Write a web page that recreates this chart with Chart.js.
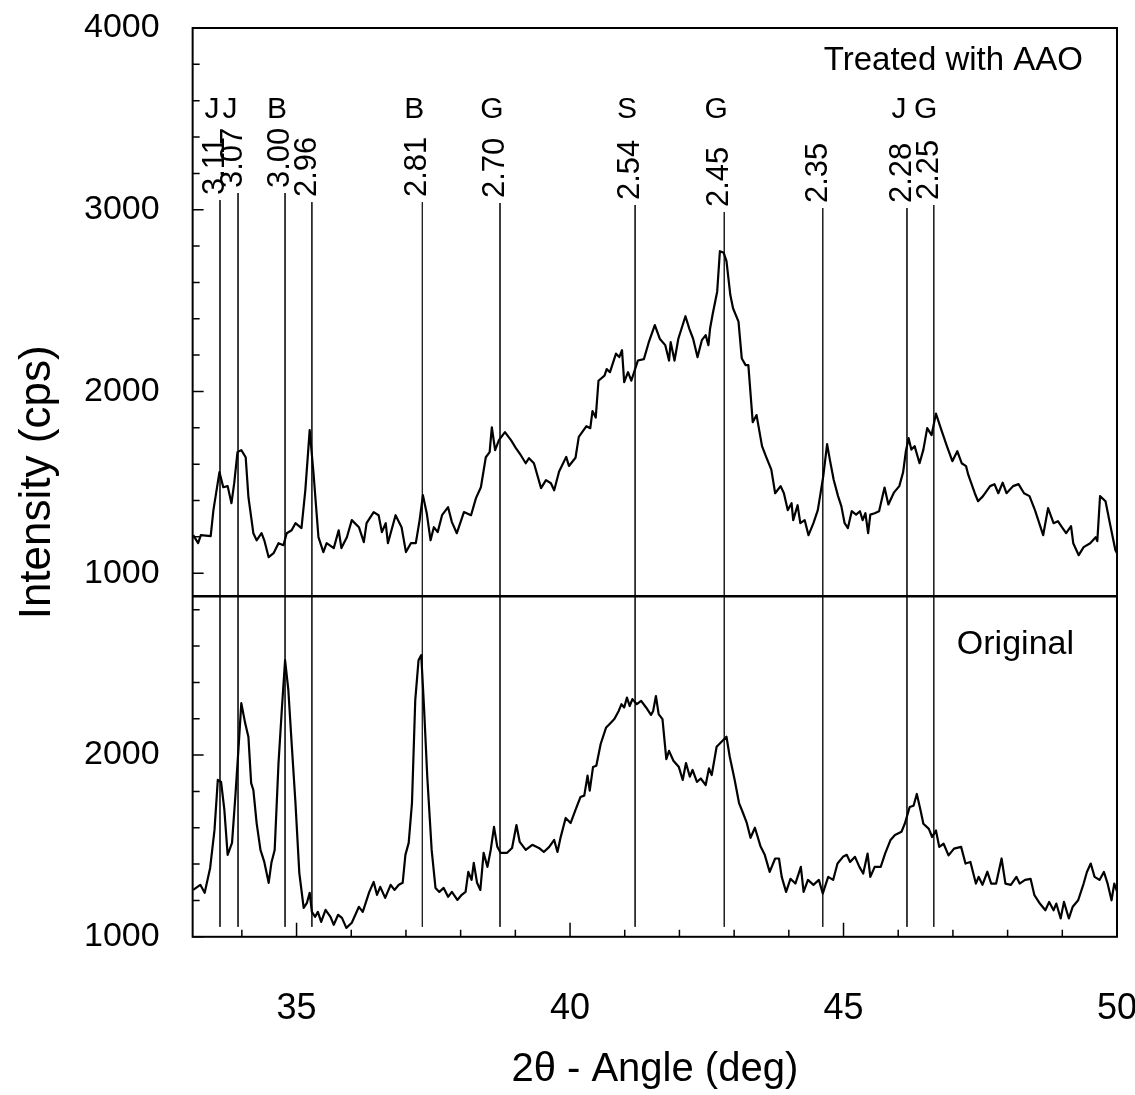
<!DOCTYPE html>
<html lang="en">
<head>
<meta charset="UTF-8">
<title>XRD – treated with AAO / original</title>
<script src="https://cdn.jsdelivr.net/npm/chart.js"></script>
<style>
  html, body { margin: 0; padding: 0; background: #fff; }
  #wrap { width: 1135px; height: 1095px; position: relative; }
</style>
</head>
<body>
<div id="wrap"><canvas id="xrdChart"></canvas></div>
<script>
const FONT = '"Liberation Sans", Arial, Helvetica, sans-serif';

// 2θ window
const angleMin = 33.1;
const angleMax = 50;

// intensity window of each panel (cps)
const upperRange = [873, 4000];
const lowerRange = [1000, 2874];

// treated with AAO (upper trace)
const treatedAngle = [
  33.11, 33.20, 33.25, 33.43, 33.48, 33.59, 33.66, 33.74, 33.81, 33.86, 33.92, 33.99, 34.07, 34.12,
  34.21, 34.27, 34.36, 34.41, 34.49, 34.58, 34.67, 34.76, 34.82, 34.91, 34.98, 35.09, 35.16, 35.24,
  35.31, 35.40, 35.49, 35.55, 35.68, 35.77, 35.82, 35.92, 36.01, 36.14, 36.23, 36.28, 36.41, 36.50,
  36.56, 36.63, 36.67, 36.81, 36.92, 37.00, 37.09, 37.18, 37.25, 37.31, 37.38, 37.45, 37.51, 37.58,
  37.66, 37.77, 37.84, 37.93, 38.06, 38.19, 38.28, 38.37, 38.46, 38.53, 38.57, 38.63, 38.70, 38.81,
  38.92, 39.01, 39.10, 39.19, 39.25, 39.34, 39.47, 39.56, 39.65, 39.71, 39.80, 39.93, 39.98, 40.10,
  40.16, 40.30, 40.37, 40.41, 40.47, 40.52, 40.63, 40.67, 40.73, 40.84, 40.90, 40.95, 40.99, 41.06,
  41.12, 41.24, 41.35, 41.44, 41.55, 41.64, 41.74, 41.81, 41.84, 41.91, 41.98, 42.11, 42.18, 42.25,
  42.33, 42.41, 42.48, 42.53, 42.56, 42.61, 42.69, 42.74, 42.81, 42.86, 42.93, 42.98, 43.08, 43.14,
  43.21, 43.26, 43.34, 43.41, 43.51, 43.58, 43.68, 43.75, 43.85, 43.91, 43.98, 44.05, 44.08, 44.16,
  44.21, 44.29, 44.36, 44.45, 44.53, 44.63, 44.70, 44.75, 44.82, 44.90, 44.96, 45.02, 45.08, 45.15,
  45.23, 45.30, 45.35, 45.40, 45.45, 45.49, 45.57, 45.65, 45.75, 45.82, 45.92, 46.02, 46.09, 46.14,
  46.19, 46.24, 46.30, 46.39, 46.46, 46.53, 46.61, 46.69, 46.79, 46.89, 46.99, 47.08, 47.16, 47.24,
  47.28, 47.40, 47.46, 47.55, 47.68, 47.76, 47.83, 47.91, 47.98, 48.10, 48.20, 48.30, 48.40, 48.50,
  48.65, 48.74, 48.84, 48.92, 48.98, 49.07, 49.16, 49.20, 49.30, 49.39, 49.51, 49.61, 49.64, 49.69,
  49.79, 49.87, 49.97, 50.00
];
const treatedCounts = [
  1209, 1165, 1209, 1204, 1347, 1556, 1473, 1479, 1385, 1495, 1666, 1677, 1638, 1418,
  1220, 1181, 1220, 1181, 1088, 1110, 1165, 1154, 1220, 1236, 1275, 1248, 1456, 1787,
  1550, 1198, 1116, 1165, 1138, 1236, 1138, 1198, 1292, 1253, 1171, 1275, 1336, 1319,
  1226, 1275, 1165, 1319, 1253, 1116, 1165, 1165, 1292, 1429, 1330, 1181, 1253, 1226,
  1319, 1363, 1281, 1220, 1336, 1319, 1413, 1473, 1638, 1666, 1803, 1677, 1732, 1776,
  1732, 1688, 1649, 1605, 1633, 1605, 1468, 1512, 1495, 1456, 1560, 1640, 1590, 1635,
  1750, 1809, 1798, 1892, 1856, 2059, 2087, 2123, 2106, 2208, 2189, 2227, 2051, 2106,
  2059, 2170, 2178, 2271, 2365, 2290, 2255, 2170, 2271, 2170, 2290, 2414, 2346, 2290,
  2189, 2282, 2310, 2255, 2346, 2429, 2549, 2772, 2763, 2717, 2532, 2458, 2384, 2181,
  2145, 2145, 1831, 1870, 1699, 1644, 1570, 1440, 1479, 1440, 1347, 1385, 1292, 1374,
  1275, 1292, 1209, 1275, 1347, 1534, 1710, 1625, 1514, 1424, 1369, 1275, 1248, 1341,
  1322, 1341, 1292, 1330, 1220, 1322, 1330, 1341, 1471, 1378, 1443, 1479, 1556, 1671,
  1743, 1680, 1699, 1605, 1680, 1798, 1760, 1878, 1787, 1699, 1616, 1671, 1605, 1589,
  1542, 1440, 1396, 1424, 1479, 1490, 1440, 1498, 1440, 1479, 1490, 1440, 1424, 1347,
  1209, 1358, 1275, 1286, 1259, 1220, 1259, 1165, 1099, 1143, 1165, 1198, 1176, 1424,
  1396, 1275, 1127, 1110
];

// original sample (lower trace)
const originalAngle = [
  33.11, 33.24, 33.32, 33.42, 33.50, 33.56, 33.62, 33.68, 33.74, 33.82, 33.88, 33.94, 33.99, 34.06,
  34.12, 34.17, 34.21, 34.27, 34.34, 34.41, 34.49, 34.54, 34.60, 34.67, 34.73, 34.79, 34.85, 34.91,
  34.98, 35.05, 35.13, 35.19, 35.24, 35.28, 35.34, 35.39, 35.45, 35.53, 35.62, 35.68, 35.76, 35.83,
  35.91, 36.01, 36.14, 36.21, 36.33, 36.41, 36.47, 36.53, 36.62, 36.72, 36.79, 36.87, 36.94, 36.99,
  37.05, 37.11, 37.17, 37.23, 37.28, 37.33, 37.39, 37.47, 37.54, 37.61, 37.69, 37.77, 37.84, 37.94,
  38.02, 38.09, 38.14, 38.20, 38.24, 38.30, 38.36, 38.42, 38.49, 38.55, 38.61, 38.67, 38.73, 38.85,
  38.94, 39.02, 39.08, 39.19, 39.31, 39.43, 39.52, 39.62, 39.71, 39.77, 39.83, 39.92, 40.01, 40.10,
  40.19, 40.26, 40.32, 40.36, 40.42, 40.48, 40.56, 40.66, 40.72, 40.81, 40.89, 40.94, 40.99, 41.04,
  41.09, 41.14, 41.22, 41.30, 41.39, 41.48, 41.52, 41.57, 41.62, 41.69, 41.76, 41.81, 41.89, 41.99,
  42.06, 42.12, 42.19, 42.24, 42.32, 42.39, 42.48, 42.54, 42.59, 42.68, 42.77, 42.86, 42.92, 43.01,
  43.09, 43.15, 43.23, 43.30, 43.38, 43.48, 43.56, 43.65, 43.75, 43.82, 43.87, 43.95, 44.03, 44.12,
  44.22, 44.27, 44.35, 44.45, 44.55, 44.62, 44.72, 44.81, 44.89, 44.99, 45.06, 45.12, 45.21, 45.29,
  45.36, 45.44, 45.49, 45.57, 45.68, 45.76, 45.86, 45.94, 46.06, 46.12, 46.21, 46.28, 46.34, 46.41,
  46.46, 46.56, 46.62, 46.69, 46.75, 46.83, 46.92, 47.02, 47.15, 47.23, 47.32, 47.42, 47.47, 47.54,
  47.63, 47.70, 47.79, 47.89, 47.96, 48.06, 48.16, 48.22, 48.32, 48.42, 48.49, 48.59, 48.69, 48.76,
  48.84, 48.89, 48.97, 49.03, 49.12, 49.19, 49.29, 49.39, 49.45, 49.52, 49.59, 49.68, 49.76, 49.83,
  49.90, 49.95, 50.00
];
const originalCounts = [
  1258, 1286, 1242, 1379, 1588, 1863, 1852, 1698, 1451, 1517, 1769, 2044, 2286, 2176,
  2099, 1846, 1808, 1626, 1478, 1412, 1297, 1407, 1478, 1956, 2247, 2522, 2357, 2066,
  1736, 1352, 1159, 1187, 1242, 1137, 1110, 1137, 1082, 1148, 1110, 1066, 1121, 1104,
  1049, 1077, 1165, 1137, 1247, 1302, 1231, 1275, 1214, 1286, 1258, 1286, 1297, 1451,
  1517, 1736, 2302, 2522, 2550, 2264, 1879, 1478, 1269, 1247, 1269, 1220, 1247, 1203,
  1231, 1247, 1357, 1313, 1407, 1297, 1258, 1462, 1385, 1478, 1605, 1495, 1462, 1462,
  1489, 1615, 1522, 1478, 1506, 1489, 1467, 1495, 1533, 1467, 1550, 1654, 1626, 1698,
  1769, 1777, 1887, 1804, 1934, 1941, 2061, 2152, 2170, 2198, 2243, 2280, 2262, 2316,
  2270, 2308, 2280, 2298, 2262, 2221, 2243, 2325, 2225, 2198, 1978, 2023, 1969, 1934,
  1863, 1956, 1881, 1918, 1852, 1871, 1835, 1927, 1890, 2046, 2073, 2101, 1991, 1863,
  1736, 1691, 1628, 1545, 1600, 1500, 1451, 1357, 1431, 1431, 1330, 1247, 1319, 1293,
  1385, 1247, 1313, 1286, 1313, 1238, 1330, 1313, 1403, 1440, 1451, 1412, 1440, 1385,
  1348, 1458, 1330, 1385, 1385, 1458, 1533, 1560, 1578, 1622, 1714, 1721, 1786, 1694,
  1622, 1594, 1549, 1585, 1495, 1512, 1448, 1485, 1495, 1403, 1412, 1293, 1330, 1286,
  1358, 1293, 1293, 1431, 1293, 1286, 1330, 1293, 1313, 1319, 1229, 1183, 1146, 1192,
  1146, 1183, 1101, 1192, 1101, 1165, 1201, 1293, 1357, 1403, 1330, 1313, 1357, 1291,
  1201, 1293, 1250
];

// reference lines: d-spacing (Å), phase, 2θ position, top end (cps, upper scale)
const refD     = ['3.11', '3.07', '3.00', '2.96', '2.81', '2.70', '2.54', '2.45', '2.35', '2.28', '2.25'];
const refPhase = ['J', 'J', 'B', '', 'B', 'G', 'S', 'G', '', 'J', 'G'];
const refAngle = [33.60, 33.93, 34.79, 35.28, 37.30, 38.72, 41.19, 42.82, 44.62, 46.16, 46.65];
const refTop   = [3053, 3092, 3092, 3042, 3042, 3037, 3026, 2987, 3009, 3009, 3026];
const refBottom = 1055;

function pairs(xs, ys) {
  return xs.map((x, i) => ({ x: x, y: ys[i] }));
}

// each reference line becomes two segments, one per panel, split by nulls
const refUpper = [];
const refLower = [];
refAngle.forEach((a, i) => {
  refUpper.push({ x: a, y: refTop[i] }, { x: a, y: upperRange[0] }, { x: a, y: null });
  refLower.push({ x: a, y: lowerRange[1] }, { x: a, y: refBottom }, { x: a, y: null });
});

// frame, inward ticks, divider and all the text drawn on the plot
const decorations = {
  id: 'decorations',
  afterDatasetsDraw(chart) {
    const { ctx, chartArea: a, scales } = chart;
    const xs = scales.x, yt = scales.yTop, yb = scales.yBot;
    ctx.save();
    ctx.strokeStyle = '#000';
    ctx.fillStyle = '#000';

    ctx.lineWidth = 1.5;
    ctx.beginPath();
    for (const s of [yt, yb]) {
      for (const t of s.ticks) {
        const py = s.getPixelForValue(t.value);
        const len = t.value % 1000 === 0 ? 11 : 7;
        ctx.moveTo(a.left, py);
        ctx.lineTo(a.left + len, py);
      }
    }
    for (const t of xs.ticks) {
      const px = xs.getPixelForValue(t.value);
      const len = t.value % 5 === 0 ? 14 : 7;
      ctx.moveTo(px, a.bottom);
      ctx.lineTo(px, a.bottom - len);
    }
    ctx.stroke();

    ctx.lineWidth = 2;
    ctx.strokeRect(a.left, a.top, a.width, a.height);
    ctx.lineWidth = 2.5;
    ctx.beginPath();
    ctx.moveTo(a.left, yt.bottom);
    ctx.lineTo(a.right, yt.bottom);
    ctx.stroke();

    // d-spacing numbers (rotated) and phase letters
    refAngle.forEach((ang, i) => {
      const px = xs.getPixelForValue(ang);
      const py = yt.getPixelForValue(refTop[i]);
      ctx.save();
      ctx.translate(px + 4, py - 5);
      ctx.rotate(-Math.PI / 2);
      ctx.font = '31px ' + FONT;
      ctx.textAlign = 'left';
      ctx.textBaseline = 'alphabetic';
      ctx.fillText(refD[i], 0, 0);
      ctx.restore();
      if (refPhase[i]) {
        ctx.font = '30px ' + FONT;
        ctx.textAlign = 'center';
        ctx.textBaseline = 'alphabetic';
        ctx.fillText(refPhase[i], px - 8, a.top + 90);
      }
    });

    ctx.font = '33px ' + FONT;
    ctx.textAlign = 'right';
    ctx.textBaseline = 'alphabetic';
    ctx.fillText('Treated with AAO', a.right - 34, a.top + 42);
    ctx.font = '34px ' + FONT;
    ctx.fillText('Original', a.right - 43, yt.bottom + 58);

    // shared intensity title for both panels
    ctx.save();
    ctx.translate(50, (a.top + a.bottom) / 2);
    ctx.rotate(-Math.PI / 2);
    ctx.font = '44px ' + FONT;
    ctx.textAlign = 'center';
    ctx.fillText('Intensity (cps)', 0, 0);
    ctx.restore();

    ctx.restore();
  }
};

Chart.defaults.color = '#000';
Chart.defaults.font.family = FONT;

const yTicks = {
  stepSize: 200,
  includeBounds: false,
  autoSkip: false,
  padding: 4,
  font: { size: 34 },
  callback: v => (v % 1000 === 0 ? v : '')
};
// tick marks are drawn inside by the plugin; tickLength only spaces the labels
const yGrid = { display: false, tickLength: 29 };

new Chart(document.getElementById('xrdChart'), {
  type: 'line',
  data: {
    datasets: [
      { data: refUpper, yAxisID: 'yTop', borderColor: '#222', borderWidth: 1, order: 2 },
      { data: refLower, yAxisID: 'yBot', borderColor: '#222', borderWidth: 1, order: 2 },
      { label: 'Treated with AAO', data: pairs(treatedAngle, treatedCounts), yAxisID: 'yTop',
        borderColor: '#000', borderWidth: 2.2, order: 1 },
      { label: 'Original', data: pairs(originalAngle, originalCounts), yAxisID: 'yBot',
        borderColor: '#000', borderWidth: 2.2, order: 1 }
    ]
  },
  options: {
    responsive: true,
    maintainAspectRatio: false,
    animation: false,
    spanGaps: false,
    elements: {
      point: { radius: 0 },
      line: { tension: 0, borderJoinStyle: 'round', fill: false }
    },
    layout: { autoPadding: false, padding: { left: 80, right: 18, top: 28, bottom: 1 } },
    plugins: { legend: { display: false }, tooltip: { enabled: false } },
    scales: {
      x: {
        type: 'linear',
        min: angleMin,
        max: angleMax,
        grid: { display: false, tickLength: 47 },
        border: { display: false },
        afterFit: s => { s.paddingLeft = 0; s.paddingRight = 18; },
        ticks: {
          stepSize: 1,
          includeBounds: false,
          autoSkip: false,
          maxRotation: 0,
          padding: 4,
          font: { size: 36 },
          callback: v => (v % 5 === 0 ? v : '')
        },
        title: {
          display: true,
          text: '2θ - Angle (deg)',
          font: { size: 40 },
          padding: { top: 11, bottom: 0 }
        }
      },
      yBot: {
        type: 'linear',
        position: 'left',
        stack: 'xrd',
        stackWeight: lowerRange[1] - lowerRange[0],
        min: lowerRange[0],
        max: lowerRange[1],
        grid: yGrid,
        border: { display: false },
        ticks: yTicks
      },
      yTop: {
        type: 'linear',
        position: 'left',
        stack: 'xrd',
        stackWeight: upperRange[1] - upperRange[0],
        min: upperRange[0],
        max: upperRange[1],
        grid: yGrid,
        border: { display: false },
        ticks: yTicks
      }
    }
  },
  plugins: [decorations]
});
</script>
</body>
</html>
